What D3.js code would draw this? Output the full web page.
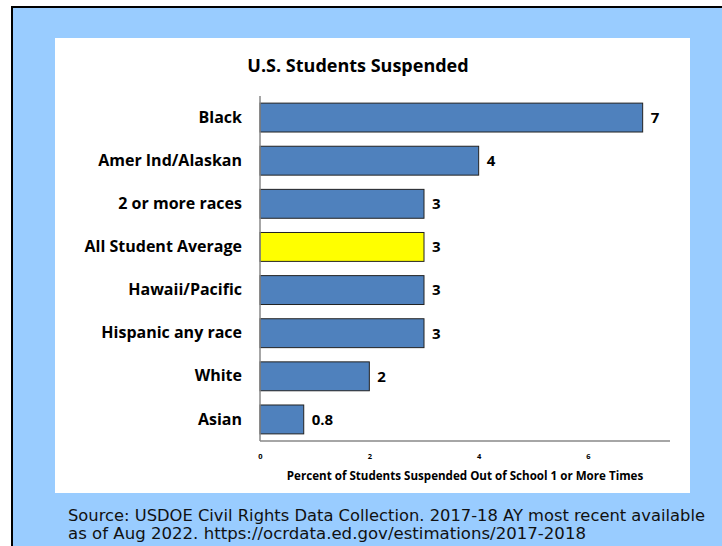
<!DOCTYPE html>
<html>
<head>
<meta charset="utf-8">
<script src="https://cdn.jsdelivr.net/npm/d3@7"></script>
<style>
  body { margin: 0; background: #fff; }
  svg { display: block; }
</style>
</head>
<body>
<svg class="chart" width="722" height="546"></svg>
<script>
// data
const categories = ["Black", "Amer Ind/Alaskan", "2 or more races", "All Student Average",
  "Hawaii/Pacific", "Hispanic any race", "White", "Asian"];
const values = [7, 4, 3, 3, 3, 3, 2, 0.8];
const valueLabels = ["7", "4", "3", "3", "3", "3", "2", "0.8"];
const highlight = "All Student Average";
const xTicks = [0, 2, 4, 6];
const sourceLines = [
  "Source: USDOE Civil Rights Data Collection. 2017-18 AY most recent available",
  "as of Aug 2022. https://ocrdata.ed.gov/estimations/2017-2018"
];

// config
const plotLeft = 260;
const plotRight = 670;
const plotTop = 96;
const plotBottom = 441;
const labelFont = "'Open Sans', sans-serif";

const svg = d3.select("svg.chart");

// background
svg.append("rect").attr("x", 12).attr("y", 7).attr("width", 720).attr("height", 550)
  .attr("fill", "#99ccff").attr("stroke", "#000").attr("stroke-width", 2);
svg.append("rect").attr("x", 55).attr("y", 38).attr("width", 635).attr("height", 455)
  .attr("fill", "#fff");

const x = d3.scaleLinear().domain([0, 7.5]).range([plotLeft, plotRight]);
const y = d3.scaleBand().domain(categories).range([plotTop, plotBottom]).paddingInner(0.33).paddingOuter(0.165);

// title
svg.append("text")
  .attr("x", 358).attr("y", 72)
  .attr("text-anchor", "middle")
  .attr("font-family", labelFont).attr("font-weight", 700).attr("font-size", 18)
  .text("U.S. Students Suspended");

// bars
svg.append("g").selectAll("rect")
  .data(categories)
  .join("rect")
  .attr("x", x(0))
  .attr("y", d => y(d))
  .attr("width", (d, i) => x(values[i]) - x(0))
  .attr("height", y.bandwidth())
  .attr("fill", d => d === highlight ? "#ffff00" : "#4f81bd")
  .attr("stroke", "#222")
  .attr("stroke-width", 1);

// value labels
svg.append("g").selectAll("text")
  .data(categories)
  .join("text")
  .attr("x", (d, i) => x(values[i]) + 8)
  .attr("y", d => y(d) + y.bandwidth() / 2)
  .attr("dy", "0.36em")
  .attr("font-family", labelFont).attr("font-weight", 700).attr("font-size", 15)
  .text((d, i) => valueLabels[i]);

// category axis
const yAxis = svg.append("g")
  .attr("transform", `translate(${plotLeft},0)`)
  .call(d3.axisLeft(y).tickSize(0).tickPadding(18));
yAxis.select(".domain").remove();
yAxis.selectAll("text")
  .attr("font-family", labelFont).attr("font-weight", 700).attr("font-size", 16).attr("fill", "#000");

// frame lines
svg.append("line").attr("x1", plotLeft).attr("x2", plotLeft).attr("y1", plotTop).attr("y2", plotBottom)
  .attr("stroke", "#888").attr("stroke-width", 1.5);
svg.append("line").attr("x1", plotLeft).attr("x2", plotRight).attr("y1", plotBottom).attr("y2", plotBottom)
  .attr("stroke", "#888").attr("stroke-width", 1.5);

// value axis
const xAxis = svg.append("g")
  .attr("transform", `translate(0,${plotBottom})`)
  .call(d3.axisBottom(x).tickValues(xTicks).tickFormat(d3.format("d")).tickSize(0).tickPadding(13));
xAxis.select(".domain").remove();
xAxis.selectAll("text")
  .attr("font-family", labelFont).attr("font-weight", 700).attr("font-size", 7.5).attr("fill", "#000");

svg.append("text")
  .attr("x", (plotLeft + plotRight) / 2).attr("y", 480)
  .attr("text-anchor", "middle")
  .attr("font-family", labelFont).attr("font-weight", 700).attr("font-size", 11.6)
  .text("Percent of Students Suspended Out of School 1 or More Times");

// source note
const note = svg.append("text")
  .attr("font-family", "'DejaVu Sans', Verdana, sans-serif").attr("font-size", 15).attr("fill", "#111");
note.append("tspan").attr("x", 68).attr("y", 521)
  .attr("textLength", 637).attr("lengthAdjust", "spacingAndGlyphs")
  .text(sourceLines[0]);
note.append("tspan").attr("x", 68).attr("y", 539)
  .attr("textLength", 518).attr("lengthAdjust", "spacingAndGlyphs")
  .text(sourceLines[1]);
</script>
</body>
</html>
